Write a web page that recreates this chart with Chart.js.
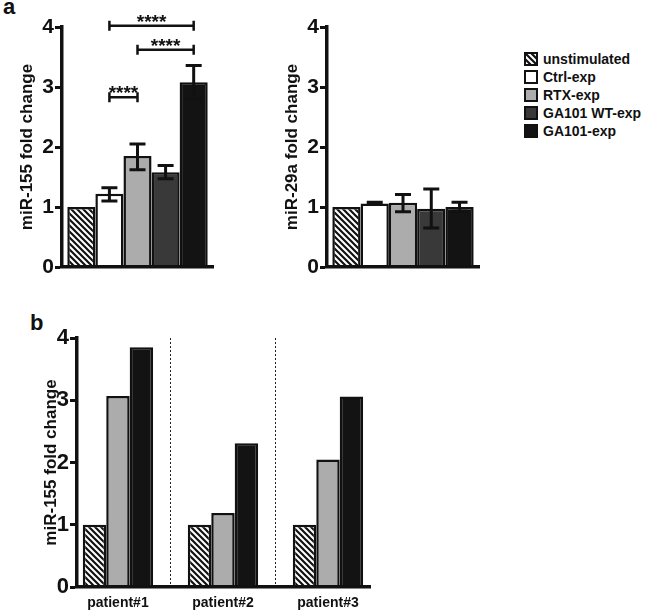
<!DOCTYPE html>
<html>
<head>
<meta charset="utf-8">
<script src="https://cdn.jsdelivr.net/npm/chart.js@4.4.1/dist/chart.umd.min.js"></script>
<style>
    body { margin: 0; background: #fff; }
    #wrap { position: relative; width: 646px; height: 611px; font-family: "Liberation Sans", Arial, sans-serif; color: #111; }
    canvas { position: absolute; }
    .panel { position: absolute; font-weight: bold; font-size: 22px; line-height: 1; }
    #legend { position: absolute; left: 524px; top: 52px; font-weight: bold; font-size: 14px; }
    #legend div { height: 18px; line-height: 14px; white-space: nowrap; }
    #legend span.sw { display: inline-block; width: 14px; height: 14px; box-sizing: border-box; border: 2px solid #111; vertical-align: top; margin-right: 5px; }
</style>
</head>
<body>
<div id="wrap">
    <div class="panel" style="left:3px; top:-4px;">a</div>
    <div class="panel" style="left:30px; top:312px;">b</div>
    <canvas id="mir155Chart" width="225" height="290" style="left:0; top:0;"></canvas>
    <canvas id="mir29aChart" width="255" height="290" style="left:230px; top:0;"></canvas>
    <div id="legend"></div>
    <canvas id="patientChart" width="400" height="311" style="left:0; top:300px;"></canvas>
</div>
<script>
const groups = ['unstimulated', 'Ctrl-exp', 'RTX-exp', 'GA101 WT-exp', 'GA101-exp'];

// panel a, left: miR-155 (mean, error bar top / bottom)
const mir155Means = [1.00, 1.22, 1.85, 1.58, 3.08];
const mir155Upper = [null, 1.32, 2.05, 1.69, 3.36];
const mir155Lower = [null, 1.10, 1.62, 1.47, 2.80];
// [from group, to group, height] for the **** brackets
const mir155Brackets = [[1, 4, 4.02], [2, 4, 3.62], [1, 2, 2.83]];

// panel a, right: miR-29a
const mir29aMeans = [1.00, 1.06, 1.07, 0.97, 1.00];
const mir29aUpper = [null, 1.08, 1.21, 1.30, 1.08];
const mir29aLower = [null, 1.04, 0.92, 0.65, 0.93];

// panel b: single patients
const patients = ['patient#1', 'patient#2', 'patient#3'];
const patientUnstim = [1.00, 1.00, 1.00];
const patientRtx = [3.07, 1.19, 2.05];
const patientGa101 = [3.85, 2.31, 3.06];

const yTicks = [0, 1, 2, 3, 4];

const FONT = '"Liberation Sans", Arial, sans-serif';
const INK = '#111';

function makeHatch() {
    const c = document.createElement('canvas');
    c.width = 6;
    c.height = 6;
    const g = c.getContext('2d');
    g.fillStyle = '#fff';
    g.fillRect(0, 0, 6, 6);
    g.strokeStyle = INK;
    g.lineWidth = 2.2;
    g.beginPath();
    g.moveTo(-1, -1); g.lineTo(7, 7);
    g.moveTo(-1, 5); g.lineTo(1, 7);
    g.moveTo(5, -1); g.lineTo(7, 1);
    g.stroke();
    return c;
}

const hatchTile = makeHatch();
const hatch = document.createElement('canvas').getContext('2d').createPattern(hatchTile, 'repeat');
const fills = [hatch, '#ffffff', '#acacac', '#393939', '#131313'];

// error bars + significance brackets
const extras = {
    id: 'extras',
    afterDatasetsDraw(chart, args, opts) {
        const ctx = chart.ctx;
        const y = chart.scales.y;
        ctx.save();
        ctx.strokeStyle = INK;
        ctx.lineWidth = 3;
        (opts.upper || []).forEach((hi, i) => {
            if (hi == null) return;
            const x = chart.getDatasetMeta(i).data[0].x;
            const yh = y.getPixelForValue(hi);
            const yl = y.getPixelForValue(opts.lower[i]);
            ctx.beginPath();
            ctx.moveTo(x, yh); ctx.lineTo(x, yl);
            ctx.moveTo(x - 8, yh); ctx.lineTo(x + 8, yh);
            ctx.moveTo(x - 8, yl); ctx.lineTo(x + 8, yl);
            ctx.stroke();
        });
        ctx.lineWidth = 2.5;
        ctx.fillStyle = INK;
        ctx.font = 'bold 19px ' + FONT;
        ctx.textAlign = 'center';
        (opts.brackets || []).forEach(([a, b, v]) => {
            const x1 = chart.getDatasetMeta(a).data[0].x;
            const x2 = chart.getDatasetMeta(b).data[0].x;
            const yb = y.getPixelForValue(v);
            ctx.beginPath();
            ctx.moveTo(x1, yb); ctx.lineTo(x2, yb);
            ctx.moveTo(x1, yb - 5); ctx.lineTo(x1, yb + 5);
            ctx.moveTo(x2, yb - 5); ctx.lineTo(x2, yb + 5);
            ctx.stroke();
            ctx.fillText('****', (x1 + x2) / 2, yb + 2);
        });
        ctx.restore();
    }
};

// dotted separators between patients
const separators = {
    id: 'separators',
    beforeDatasetsDraw(chart, args, opts) {
        if (!opts.at) return;
        const ctx = chart.ctx;
        const x = chart.scales.x;
        const y = chart.scales.y;
        ctx.save();
        ctx.strokeStyle = '#222';
        ctx.lineWidth = 1;
        ctx.setLineDash([2, 2]);
        opts.at.forEach(v => {
            const px = Math.round(x.getPixelForValue(v)) + 0.5;
            ctx.beginPath();
            ctx.moveTo(px, y.getPixelForValue(4));
            ctx.lineTo(px, y.getPixelForValue(0));
            ctx.stroke();
        });
        ctx.restore();
    }
};

function yScale(title, width, titlePad, tickSize) {
    return {
        min: 0,
        max: 4,
        afterBuildTicks: axis => { axis.ticks = yTicks.map(v => ({value: v})); },
        afterFit: axis => { axis.width = width; },
        ticks: {
            color: INK,
            padding: 1,
            font: {family: FONT, size: tickSize, weight: 'bold'},
        },
        grid: {
            drawOnChartArea: false,
            drawTicks: true,
            tickLength: 7,
            tickWidth: 3,
            tickColor: INK,
        },
        border: {color: INK, width: 3.5, z: 1},
        title: {
            display: true,
            text: title,
            color: INK,
            padding: {top: titlePad, bottom: 0},
            font: {family: FONT, size: 17, weight: 'bold'},
        },
    };
}

function groupChart(id, title, means, upper, lower, brackets, yWidth, titlePad, padRight) {
    return new Chart(document.getElementById(id), {
        type: 'bar',
        data: {
            labels: [''],
            datasets: groups.map((g, i) => ({
                label: g,
                data: [means[i]],
                backgroundColor: fills[i],
                borderColor: INK,
                borderWidth: 2.5,
                categoryPercentage: 0.93,
                barPercentage: 1,
            })),
        },
        options: {
            responsive: false,
            animation: false,
            devicePixelRatio: 1,
            layout: {padding: {top: 27, right: padRight, bottom: 23, left: 0}},
            plugins: {
                legend: {display: false},
                tooltip: {enabled: false},
                extras: {upper: upper, lower: lower, brackets: brackets},
            },
            scales: {
                x: {
                    afterFit: axis => { axis.height = 0; },
                    ticks: {display: false},
                    grid: {display: false, drawTicks: false},
                    border: {color: INK, width: 3.5, z: 1},
                },
                y: yScale(title, yWidth, titlePad, 21),
            },
        },
        plugins: [extras],
    });
}

groupChart('mir155Chart', 'miR-155 fold change', mir155Means, mir155Upper, mir155Lower, mir155Brackets, 62, 17, 12);
const chart29 = groupChart('mir29aChart', 'miR-29a fold change', mir29aMeans, mir29aUpper, mir29aLower, [], 97, 52, 6);

// html legend from the miR-29a chart
const legendBox = document.getElementById('legend');
chart29.data.datasets.forEach((ds, i) => {
    const row = document.createElement('div');
    const sw = document.createElement('span');
    sw.className = 'sw';
    if (i === 0) {
        sw.style.backgroundImage = 'url(' + hatchTile.toDataURL() + ')';
    } else {
        sw.style.background = ds.backgroundColor;
    }
    row.appendChild(sw);
    row.appendChild(document.createTextNode(ds.label));
    legendBox.appendChild(row);
});

const patientSeries = [
    {label: 'unstimulated', values: patientUnstim, fill: fills[0]},
    {label: 'RTX-exp', values: patientRtx, fill: fills[2]},
    {label: 'GA101-exp', values: patientGa101, fill: fills[4]},
];

new Chart(document.getElementById('patientChart'), {
    type: 'bar',
    data: {
        datasets: patientSeries.map(s => ({
            label: s.label,
            data: s.values.map((v, i) => ({x: i, y: v})),
            backgroundColor: s.fill,
            borderColor: INK,
            borderWidth: 2.5,
            categoryPercentage: 0.67,
            barPercentage: 1,
        })),
    },
    options: {
        responsive: false,
        animation: false,
        devicePixelRatio: 1,
        layout: {padding: {top: 38, right: 30, bottom: 0, left: 0}},
        plugins: {
            legend: {display: false},
            tooltip: {enabled: false},
            separators: {at: [0.5, 1.5]},
        },
        scales: {
            x: {
                type: 'linear',
                offset: false,
                min: -0.39,
                max: 2.4,
                afterBuildTicks: axis => { axis.ticks = patients.map((p, i) => ({value: i})); },
                afterFit: axis => { axis.height = 24; },
                ticks: {
                    color: INK,
                    padding: 8,
                    font: {family: FONT, size: 14, weight: 'bold'},
                    callback: v => patients[v],
                },
                grid: {display: false, drawTicks: false},
                border: {color: INK, width: 3.5, z: 1},
            },
            y: yScale('miR-155 fold change', 77, 41, 22),
        },
    },
    plugins: [separators],
});
</script>
</body>
</html>
